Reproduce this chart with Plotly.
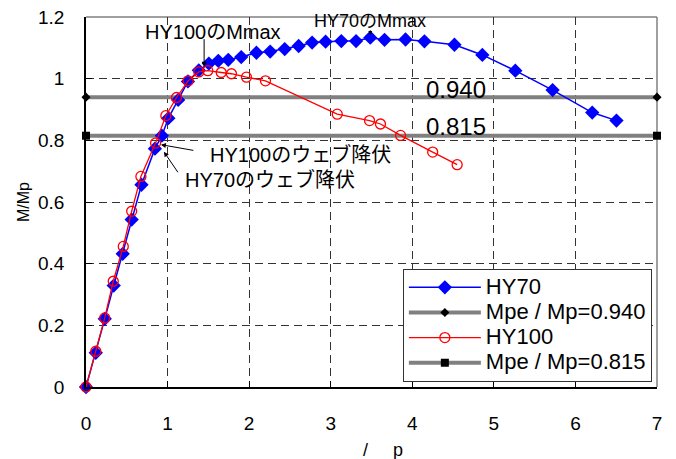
import plotly.graph_objects as go

# ---- data ----
x_hy70 = [0, 0.12, 0.23, 0.34, 0.45, 0.56, 0.68, 0.845, 0.93, 1.01, 1.13, 1.25, 1.383, 1.506,
          1.622, 1.744, 1.903, 2.089, 2.258, 2.436, 2.607, 2.772, 2.937, 3.13, 3.311, 3.485,
          3.66, 3.917, 4.149, 4.517, 4.859, 5.263, 5.72, 6.206, 6.503]
y_hy70 = [0, 0.111, 0.221, 0.329, 0.432, 0.543, 0.656, 0.773, 0.815, 0.872, 0.931, 0.991, 1.027,
          1.049, 1.058, 1.061, 1.070, 1.084, 1.088, 1.096, 1.106, 1.117, 1.120, 1.122, 1.122,
          1.133, 1.126, 1.127, 1.121, 1.110, 1.077, 1.026, 0.963, 0.890, 0.864]

x_hy100 = [0, 0.12, 0.23, 0.334, 0.457, 0.56, 0.673, 0.853, 0.979, 1.11, 1.252, 1.383, 1.493,
           1.658, 1.783, 1.967, 2.2, 3.08, 3.476, 3.61, 3.856, 4.25, 4.55]
y_hy100 = [0, 0.116, 0.224, 0.343, 0.456, 0.570, 0.683, 0.791, 0.880, 0.939, 0.993, 1.022, 1.026,
           1.020, 1.016, 1.005, 0.993, 0.885, 0.864, 0.853, 0.816, 0.762, 0.721]

x_ref = [0, 7]
mpe_940 = [0.940, 0.940]
mpe_815 = [0.815, 0.815]

x_ticks = [0, 1, 2, 3, 4, 5, 6, 7]
y_ticks = [0, 0.2, 0.4, 0.6, 0.8, 1.0, 1.2]

FONT = "Arial, Liberation Sans, Noto Sans CJK JP, sans-serif"


def big(s):
    return '<span style="font-size:22px">' + s + '</span>'


fig = go.Figure()

fig.add_trace(go.Scatter(
    x=x_ref, y=mpe_940, name=big("Mpe / Mp=0.940"), mode="lines+markers",
    line=dict(color="#808080", width=4),
    marker=dict(symbol="diamond", size=7, color="black"),
    cliponaxis=False, legendrank=2))
fig.add_trace(go.Scatter(
    x=x_ref, y=mpe_815, name=big("Mpe / Mp=0.815"), mode="lines+markers",
    line=dict(color="#808080", width=4),
    marker=dict(symbol="square", size=8, color="black"),
    cliponaxis=False, legendrank=4))
fig.add_trace(go.Scatter(
    x=x_hy70, y=y_hy70, name=big("HY70"), mode="lines+markers",
    line=dict(color="#0000FF", width=1.5),
    marker=dict(symbol="diamond", size=11, color="#0000FF"),
    cliponaxis=False, legendrank=1))
fig.add_trace(go.Scatter(
    x=x_hy100, y=y_hy100, name=big("HY100"), mode="lines+markers",
    line=dict(color="#FF0000", width=1.3),
    marker=dict(symbol="circle-open", size=10, color="#FF0000", line=dict(width=1.3)),
    cliponaxis=False, legendrank=3))

ann_font = dict(family=FONT, size=20, color="black")
annotations = [
    # HY100 Mmax
    dict(x=1.448, y=1.039, xref="x", yref="y", text="", showarrow=True,
         ax=0, ay=-29, arrowhead=2, arrowsize=1, arrowwidth=1, arrowcolor="black"),
    dict(x=1.554, y=1.152, xref="x", yref="y", text="HY100のMmax", showarrow=False,
         yanchor="middle", font=ann_font),
    # HY70 Mmax
    dict(x=3.485, y=1.142, xref="x", yref="y", text="", showarrow=True,
         ax=0, ay=-6, arrowhead=2, arrowsize=0.8, arrowwidth=1, arrowcolor="black"),
    dict(x=3.485, y=0.989, xref="x", yref="paper", text="HY70のMmax", showarrow=False,
         xanchor="center", yanchor="middle", font=dict(family=FONT, size=18, color="black")),
    # web yield
    dict(x=0.918, y=0.786, xref="x", yref="y", text="", showarrow=True,
         ax=34, ay=6, arrowhead=2, arrowsize=1, arrowwidth=1, arrowcolor="black"),
    dict(x=1.493, y=0.753, xref="x", yref="y", text="HY100のウェブ降伏", showarrow=False,
         xanchor="left", yanchor="middle", font=ann_font),
    dict(x=0.955, y=0.763, xref="x", yref="y", text="", showarrow=True,
         ax=15, ay=22, arrowhead=2, arrowsize=1, arrowwidth=1, arrowcolor="black"),
    dict(x=1.187, y=0.672, xref="x", yref="y", text="HY70のウェブ降伏", showarrow=False,
         xanchor="left", yanchor="middle", font=ann_font),
    # value labels
    dict(x=4.14, y=0.964, xref="x", yref="y", text="0.940", showarrow=False,
         xanchor="left", yanchor="middle", font=dict(family=FONT, size=24, color="black")),
    dict(x=4.14, y=0.844, xref="x", yref="y", text="0.815", showarrow=False,
         xanchor="left", yanchor="middle", font=dict(family=FONT, size=24, color="black")),
    # x axis title (drawn as annotation to place it like the reference)
    dict(x=0.52, y=-0.17, xref="paper", yref="paper",
         text="/\u00a0\u00a0\u00a0\u00a0\u00a0p", showarrow=False,
         xanchor="center", yanchor="middle", font=dict(family=FONT, size=18, color="black")),
]

shapes = [
    dict(type="line", xref="paper", yref="paper", x0=0, x1=1, y0=1, y1=1,
         line=dict(color="#808080", width=1.5), layer="below"),
    dict(type="line", xref="paper", yref="paper", x0=1, x1=1, y0=0, y1=1,
         line=dict(color="#808080", width=1.5), layer="below"),
]

# the page body has an 8px default margin, so the figure is offset by 8px
fig.update_layout(
    width=668, height=451,
    margin=dict(l=78, r=19, t=9, b=72, autoexpand=False),
    paper_bgcolor="white", plot_bgcolor="white",
    font=dict(family=FONT, size=19, color="black"),
    showlegend=True,
    legend=dict(x=0.991, y=0.014, xanchor="right", yanchor="bottom",
                bgcolor="white", bordercolor="#333333", borderwidth=1,
                font=dict(family=FONT, size=17, color="black"),
                itemwidth=72, tracegroupgap=0),
    annotations=annotations,
    shapes=shapes,
)

fig.update_xaxes(
    range=[0, 7], tickvals=x_ticks, showline=True, linecolor="black", linewidth=1.5,
    ticks="inside", ticklen=6, tickcolor="black", ticklabelstandoff=18,
    ticklabeloverflow="allow",
    showgrid=True, gridcolor="#333333", gridwidth=1, griddash="8px,5px",
    zeroline=False, automargin=False,
)
fig.update_yaxes(
    range=[0, 1.2], tickvals=y_ticks, showline=True, linecolor="black", linewidth=1.5,
    ticks="inside", ticklen=6, tickcolor="black", ticklabelstandoff=16,
    ticklabeloverflow="allow",
    showgrid=True, gridcolor="#333333", gridwidth=1, griddash="8px,5px",
    zeroline=False, automargin=False,
    title=dict(text="M/Mp", font=dict(size=16), standoff=4),
)

fig.write_html("out.html")
